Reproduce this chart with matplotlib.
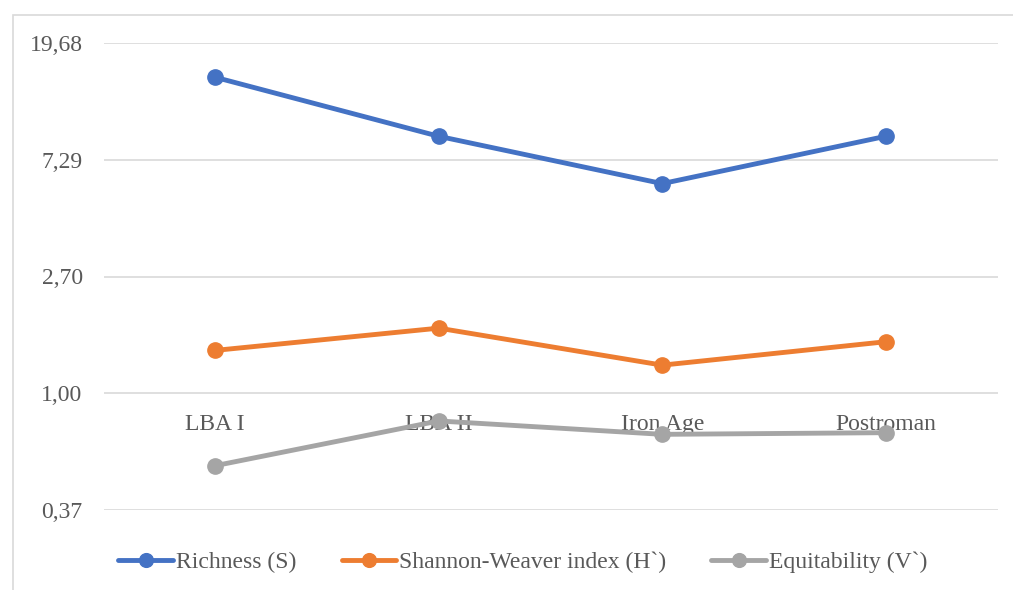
import matplotlib.pyplot as plt
from matplotlib.patches import Rectangle
from matplotlib.ticker import FixedLocator, FuncFormatter

categories = ['LBA I', 'LBA II', 'Iron Age', 'Postroman']
richness = [14.7, 8.9, 5.95, 8.9]
shannon = [1.44, 1.74, 1.27, 1.55]
equitability = [0.54, 0.79, 0.705, 0.715]

labels = ['Richness (S)', 'Shannon-Weaver index (H`)', 'Equitability (V`)']
colors = ['#4472C4', '#ED7D31', '#A5A5A5']

plt.rcParams['font.family'] = ['Liberation Serif', 'DejaVu Serif']

W, H = 1013, 590
fig = plt.figure(figsize=(W / 100, H / 100), dpi=100)

# chart border (cropped at right/bottom in the reference)
fig.patches.append(Rectangle((13 / W, -0.1), 1.2, 1 - 15 / H + 0.1,
                             transform=fig.transFigure, fill=False,
                             edgecolor='#D9D9D9', linewidth=1.2))

ax = fig.add_axes([103.5 / W, 1 - 510 / H, 894 / W, 467 / H])

x = list(range(len(categories)))
for vals, lab, c in zip([richness, shannon, equitability], labels, colors):
    ax.plot(x, vals, color=c, linewidth=3.5, marker='o', markersize=11,
            label=lab, solid_capstyle='round', zorder=3)

ax.set_yscale('log', base=2.7)
ax.set_ylim(2.7 ** -1, 2.7 ** 3)
ax.set_xlim(-0.5, len(categories) - 0.5)
yt = [2.7 ** k for k in range(-1, 4)]
ax.yaxis.set_major_locator(FixedLocator(yt))
ax.yaxis.set_minor_locator(FixedLocator([]))
ax.yaxis.set_major_formatter(FuncFormatter(lambda v, p: f'{v:.2f}'.replace('.', ',')))
ax.grid(axis='y', color='#D9D9D9', linewidth=1.2)
ax.set_axisbelow(True)

ax.set_xticks(x)
ax.set_xticklabels(categories)
ax.spines['bottom'].set_position(('data', 1))
for s in ax.spines.values():
    s.set_visible(False)
ax.tick_params(axis='both', length=0, labelsize=17, labelcolor='#595959')
ax.tick_params(axis='x', pad=15)
ax.tick_params(axis='y', pad=15)

fig.legend(loc='center', bbox_to_anchor=(523 / W, 1 - 562 / H), ncol=3,
           frameon=False, fontsize=17, handlelength=2.3, handletextpad=0.15,
           columnspacing=1.9, labelcolor='#595959', markerscale=0.9)

fig.savefig('out.png', dpi=100)
